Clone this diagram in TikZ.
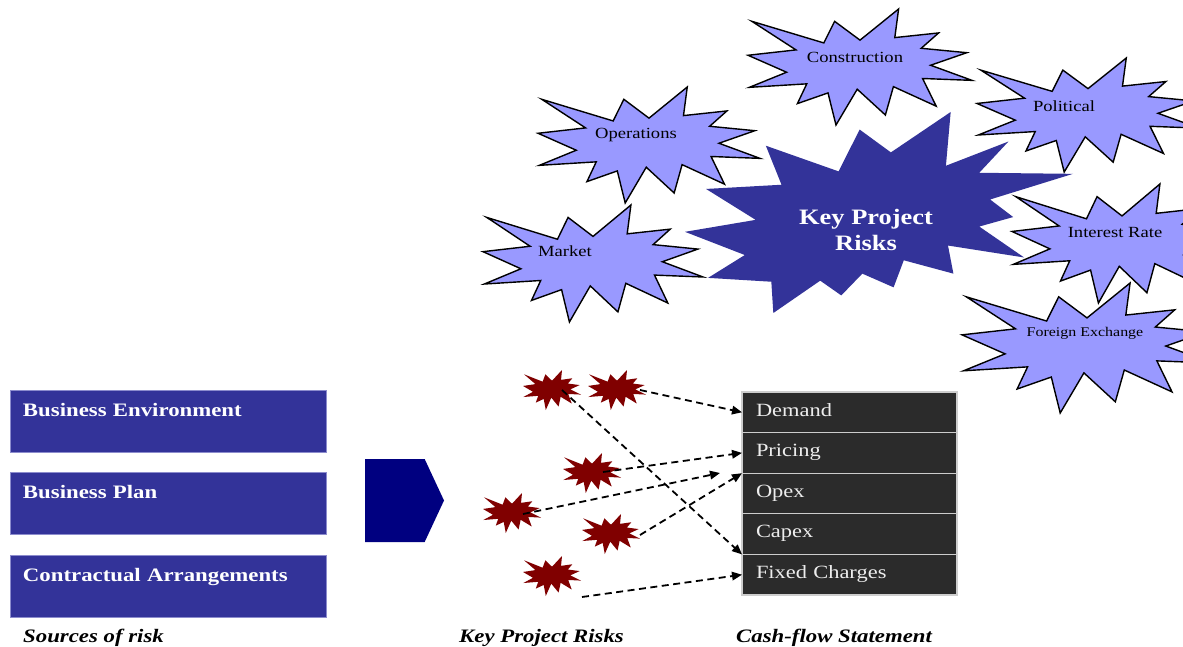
\documentclass[tikz,border=0pt]{standalone}
\usepackage{fontspec}
\setmainfont{Liberation Serif}[FakeStretch=1.2]
\usetikzlibrary{arrows.meta,shapes.symbols}

\definecolor{riskblue}{RGB}{51,51,153}
\definecolor{riskedge}{RGB}{140,140,205}
\definecolor{navyarrow}{RGB}{0,0,128}
\definecolor{burstlight}{RGB}{153,153,255}
\definecolor{burstred}{RGB}{128,0,0}
\definecolor{cellgray}{RGB}{43,43,43}
\definecolor{cellline}{RGB}{205,205,205}

\tikzset{
  % "Explosion 1" outline on a 216 x 216 grid
  sealone/.pic={\path[pic actions]
    (108,58) -- (145.22,0) -- (141.55,53.25) -- (183.80,44.57) -- (167.02,73.15)
    -- (210.97,81.37) -- (176.07,104.75) -- (216,132.90) -- (168.37,129.42)
    -- (181.45,180.95) -- (140.20,144.57) -- (132.47,197.37) -- (105.32,149.35)
    -- (84.85,216) -- (77.15,156.27) -- (47.62,176.17) -- (56.67,139.37)
    -- (1.35,145.87) -- (37.22,117.75) -- (0,86.15) -- (46.27,76.17)
    -- (3.70,22.95) -- (73.12,63.20) -- (83.52,22.95) -- cycle;},
  % "Explosion 2" outline on a 216 x 216 grid
  sealtwo/.pic={\path[pic actions]
    (114.62,43.42) -- (147.90,0) -- (145.25,57.77) -- (180.07,31.72) -- (163.80,65.32)
    -- (216,66.45) -- (169.85,94.02) -- (182.70,112.90) -- (163.80,123.10)
    -- (188.77,156.32) -- (146.40,143.50) -- (149.42,173.70) -- (121.80,159.35)
    -- (116.12,188.42) -- (98.72,173.70) -- (87,197.12) -- (75.27,181.25)
    -- (49.17,216) -- (48.05,182.40) -- (12.85,178.25) -- (33.30,153.70)
    -- (0,128.77) -- (39.35,115.92) -- (11.72,82.70) -- (53.72,78.17)
    -- (45.02,36.25) -- (85.50,63.82) -- (97.22,18.87) -- cycle;},
  lightburst/.style={fill=burstlight, draw=black, line width=1.4pt, line join=miter},
  keyburst/.style={fill=riskblue},
  redburst/.style={fill=burstred},
  burstlabel/.style={inner sep=0pt, font=\fontsize{15.5}{18}\selectfont},
  keylabel/.style={inner sep=0pt, align=center, text=white,
    font=\fontsize{22}{26.5}\selectfont\bfseries},
  srcbox/.style={fill=riskblue, draw=riskedge, line width=0.8pt, outer sep=0pt,
    anchor=north west, minimum width=316pt, text width=290pt, align=left,
    inner xsep=13pt, inner ysep=0pt, text height=26pt, text depth=36pt,
    text=white, font=\fontsize{19}{22}\selectfont\bfseries},
  cell/.style={fill=cellgray, draw=cellline, line width=1.2pt, outer sep=0pt,
    anchor=north west, text width=187pt, align=left, inner xsep=14pt,
    inner ysep=0pt, text height=24pt, text depth=16.6pt,
    text=white!93!black, font=\fontsize{18.7}{21}\selectfont},
  caption/.style={anchor=base west, inner sep=0pt,
    font=\fontsize{19}{21}\selectfont\bfseries\itshape},
  flow/.style={draw=black, line width=1.8pt, dash pattern=on 7pt off 4.5pt,
    -{Triangle[length=10pt,width=8.5pt]}},
}

\begin{document}
\begin{tikzpicture}[x=1pt,y=-1pt]
\clip (0,0) rectangle (1183,647);
\fill[white] (0,0) rectangle (1183,647);

% sources of risk
\node[srcbox] (env) at (10,390) {Business Environment};
\node[srcbox] (plan) at (10,472) {Business Plan};
\node[srcbox] (contract) at (10,555) {Contractual Arrangements};
\node[caption] (srccap) at (23,642) {Sources of risk};

% block arrow
\node[signal, signal to=east, signal pointer angle=130, fill=navyarrow,
  minimum width=79pt, minimum height=83pt, inner sep=0pt, outer sep=0pt,
  anchor=west] (funnel) at (365,500.5) {};

% risk categories
\pic[keyburst, xscale=388/216, yscale=201/216] at (685,112) {sealtwo};
\pic[lightburst, xscale=220/216, yscale=117/216] at (483,205) {sealone};
\pic[lightburst, xscale=222/216, yscale=116/216] at (538,87) {sealone};
\pic[lightburst, xscale=224/216, yscale=116/216] at (748,9) {sealone};
\pic[lightburst, xscale=222/216, yscale=114/216] at (977,58) {sealone};
\pic[lightburst, xscale=220/216, yscale=119/216] at (1012,184) {sealone};
\pic[lightburst, xscale=250/216, yscale=130/216] at (962,283) {sealone};

\node[keylabel] (keyrisks) at (866,230) {Key Project\\Risks};
\node[burstlabel] (market) at (565,251) {Market};
\node[burstlabel] (operations) at (636,135) {Operations};
\node[burstlabel] (construction) at (855,57) {Construction};
\node[burstlabel] (political) at (1064,106) {Political};
\node[burstlabel] (interest) at (1115,233) {Interest Rate};
\node[burstlabel, font=\fontsize{13.3}{16}\selectfont] (forex) at (1085,333) {Foreign Exchange};

% individual risks
\pic[redburst, xscale=58/216, yscale=40/216] at (523,370) {sealone};
\pic[redburst, xscale=58/216, yscale=40/216] at (588,370) {sealone};
\pic[redburst, xscale=58/216, yscale=40/216] at (563,453) {sealone};
\pic[redburst, xscale=58/216, yscale=40/216] at (483,493) {sealone};
\pic[redburst, xscale=58/216, yscale=40/216] at (582,514) {sealone};
\pic[redburst, xscale=58/216, yscale=40/216] at (523,556) {sealone};
\coordinate (ra) at (562,390);
\coordinate (rb) at (640,390);
\coordinate (rc) at (603,472);
\coordinate (rd) at (523,514);
\coordinate (re) at (640,535);
\coordinate (rf) at (582,597);
\coordinate (rdend) at (720,473);
\node[caption] (riskcap) at (459,642) {Key Project Risks};

% cash-flow statement
\node[cell] (dem) at (742,392) {Demand};
\node[cell] (pri) at (dem.south west) {Pricing};
\node[cell] (opx) at (pri.south west) {Opex};
\node[cell] (cpx) at (opx.south west) {Capex};
\node[cell] (fix) at (cpx.south west) {Fixed Charges};
\node[caption] (cfcap) at (736,642) {Cash-flow Statement};

% risk to cash-flow links
\draw[flow] (ra) -- (cpx.south west);
\draw[flow] (rb) -- (dem.west);
\draw[flow] (rc) -- (pri.west);
\draw[flow] (rd) -- (rdend);
\draw[flow] (re) -- (opx.north west);
\draw[flow] (rf) -- (fix.west);
\end{tikzpicture}
\end{document}
